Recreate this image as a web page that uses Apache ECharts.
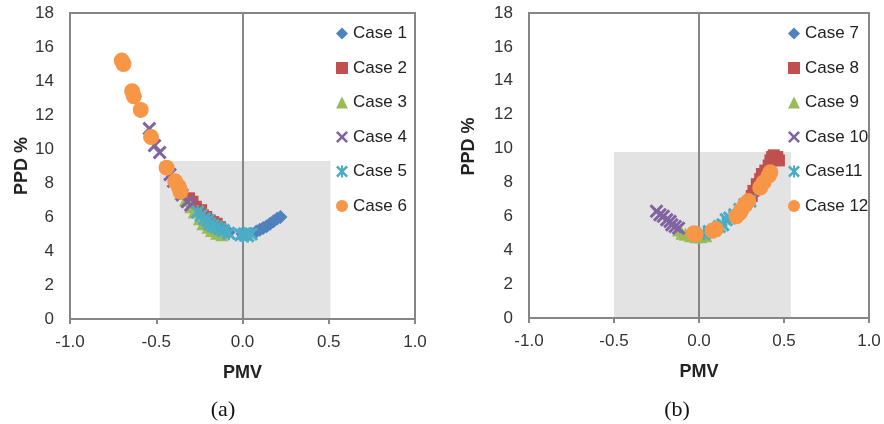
<!DOCTYPE html>
<html>
<head>
<meta charset="utf-8">
<script src="https://cdn.jsdelivr.net/npm/echarts@6/dist/echarts.min.js"></script>
<style>
html,body{margin:0;padding:0;background:#fff;}
#main{width:884px;height:424px;}
</style>
</head>
<body>
<div id="main"></div>
<script>
// tick values
var xTicks = [-1.0, -0.5, 0.0, 0.5, 1.0];
var yTicks = [0, 2, 4, 6, 8, 10, 12, 14, 16, 18];

// chart (a) : [PMV, PPD %]
var case1 = [[-0.10,5.2],[-0.08,5.1],[0.00,5.0],[0.08,5.15],[0.10,5.25],[0.12,5.35],[0.14,5.45],[0.16,5.6],[0.18,5.75],[0.20,5.9],[0.22,6.0]];
var case2 = [[-0.31,7.1],[-0.29,6.9],[-0.27,6.6],[-0.26,6.3],[-0.24,6.4],[-0.23,6.1],[-0.21,6.0],[-0.19,5.8],[-0.17,5.7],[-0.15,5.6],[-0.13,5.4]];
var case3 = [[-0.36,7.4],[-0.33,7.0],[-0.30,6.6],[-0.28,6.3],[-0.25,5.9],[-0.23,5.6],[-0.20,5.4],[-0.18,5.2],[-0.15,5.05],[-0.12,4.95]];
var case4 = [[-0.54,11.2],[-0.51,10.2],[-0.48,9.8],[-0.42,8.5],[-0.40,8.1],[-0.35,7.3],[-0.32,6.9],[-0.30,6.7]];
var case5 = [[-0.26,6.3],[-0.24,6.1],[-0.22,5.9],[-0.20,5.8],[-0.19,5.6],[-0.17,5.5],[-0.15,5.4],[-0.13,5.3],[-0.11,5.2],[-0.08,5.05],[-0.01,4.95],[0.01,5.0],[0.03,4.9],[0.05,5.0]];
var case6 = [[-0.70,15.2],[-0.69,15.0],[-0.64,13.4],[-0.63,13.1],[-0.59,12.3],[-0.53,10.7],[-0.44,8.9],[-0.39,8.1],[-0.37,7.8],[-0.36,7.5]];

// chart (b)
var case7 = [[0.34,7.8],[0.40,8.8],[0.44,9.2]];
var case8 = [[0.31,7.2],[0.32,7.5],[0.34,7.9],[0.36,8.2],[0.37,8.5],[0.39,8.7],[0.41,9.0],[0.42,9.3],[0.43,9.5],[0.44,9.6],[0.46,9.5],[0.47,9.3]];
var case9 = [[-0.12,5.2],[-0.10,5.0],[-0.08,4.95],[-0.05,4.85],[-0.02,4.8],[0.01,4.8],[0.04,4.85]];
var case10 = [[-0.25,6.3],[-0.23,6.1],[-0.21,6.0],[-0.19,5.8],[-0.17,5.7],[-0.16,5.5],[-0.14,5.4],[-0.12,5.3]];
var case11 = [[0.03,5.0],[0.06,5.1],[0.09,5.2],[0.12,5.4],[0.14,5.5],[0.16,5.8],[0.18,5.9],[0.21,6.1],[0.24,6.4],[0.27,6.7],[0.30,6.9]];
var case12 = [[-0.03,5.0],[-0.02,4.95],[0.08,5.15],[0.10,5.25],[0.22,6.0],[0.24,6.2],[0.25,6.4],[0.27,6.7],[0.29,6.9],[0.36,7.7],[0.38,8.0],[0.41,8.4],[0.42,8.6]];

// comfort zone boxes [x0, x1, yTop]
var zoneA = [-0.48, 0.51, 9.3];
var zoneB = [-0.50, 0.54, 9.8];

var seriesNamesA = ['Case 1','Case 2','Case 3','Case 4','Case 5','Case 6'];
var seriesNamesB = ['Case 7','Case 8','Case 9','Case 10','Case11','Case 12'];

var colors = ['#4F81BD','#C0504D','#9BBB59','#8064A2','#4BACC6','#F79646'];
var xMark = 'path://M0,1.8 L1.8,0 L6,4.2 L10.2,0 L12,1.8 L7.8,6 L12,10.2 L10.2,12 L6,7.8 L1.8,12 L0,10.2 L4.2,6 Z';
var starMark = 'path://M0,1.8 L1.8,0 L6,4.2 L10.2,0 L12,1.8 L7.8,6 L12,10.2 L10.2,12 L6,7.8 L1.8,12 L0,10.2 L4.2,6 Z M5,0 L7,0 L7,12 L5,12 Z';
var symbols = ['diamond','rect','triangle',xMark,starMark,'circle'];
var sizes = [14,12,13,14,14,16];

var FONT = 'Liberation Sans, Arial, sans-serif';

function makeSeries(names, datas, gi){
	var list = [];
	// shaded box + zero line
	var zone = gi == 0 ? zoneA : zoneB;
	list.push({
		type:'scatter',
		xAxisIndex:gi,
		yAxisIndex:gi,
		data:[],
		silent:true,
		markArea:{
			silent:true,
			z:0,
			itemStyle:{color:'#E3E3E3'},
			data:[[{coord:[zone[0],0]},{coord:[zone[1],zone[2]]}]]
		},
		markLine:{
			silent:true,
			z:1,
			symbol:['none','none'],
			label:{show:false},
			lineStyle:{color:'#868686',width:2,type:'solid'},
			data:[{xAxis:0}]
		}
	});
	for(var i=0;i<names.length;i++){
		list.push({
			name:names[i],
			type:'scatter',
			xAxisIndex:gi,
			yAxisIndex:gi,
			symbol:symbols[i],
			symbolSize:sizes[i],
			itemStyle:{color:colors[i],opacity:1},
			data:datas[i]
		});
	}
	return list;
}

function makeLegend(names, left){
	return {
		orient:'vertical',
		left:left,
		top:20,
		itemWidth:12,
		itemHeight:12,
		itemGap:17.5,
		selectedMode:false,
		textStyle:{fontFamily:FONT,fontSize:17,lineHeight:17,color:'#222'},
		data:names
	};
}

function makeX(gi){
	return {
		type:'value',
		gridIndex:gi,
		min:xTicks[0],
		max:xTicks[xTicks.length-1],
		interval:0.5,
		name:'PMV',
		nameLocation:'middle',
		nameGap:45,
		nameTextStyle:{fontFamily:FONT,fontSize:18,fontWeight:'bold',color:'#222'},
		axisLine:{show:true,lineStyle:{color:'#868686',width:2}},
		axisTick:{show:true,length:5,lineStyle:{color:'#868686',width:2}},
		axisLabel:{margin:15,fontFamily:FONT,fontSize:17,color:'#333',formatter:function(v){return v.toFixed(1);}},
		splitLine:{show:false}
	};
}

function makeY(gi, gap, pad){
	return {
		type:'value',
		gridIndex:gi,
		min:yTicks[0],
		max:yTicks[yTicks.length-1],
		interval:2,
		name:'PPD %',
		nameLocation:'middle',
		nameGap:gap,
		nameTextStyle:{fontFamily:FONT,fontSize:18,fontWeight:'bold',color:'#222',padding:[0,0,0,pad]},
		axisLine:{show:true,lineStyle:{color:'#868686',width:2}},
		axisTick:{show:false},
		axisLabel:{margin:16,fontFamily:FONT,fontSize:17,color:'#333'},
		splitLine:{show:false}
	};
}

var myChart = echarts.init(document.getElementById('main'));
var option = {
	animation:false,
	backgroundColor:'#fff',
	title:[
		{text:'(a)',left:218,top:394,textAlign:'center',textStyle:{fontFamily:'Liberation Serif, Times New Roman, serif',fontSize:22,fontWeight:'normal',color:'#111'}},
		{text:'(b)',left:672,top:394,textAlign:'center',textStyle:{fontFamily:'Liberation Serif, Times New Roman, serif',fontSize:22,fontWeight:'normal',color:'#111'}}
	],
	legend:[makeLegend(seriesNamesA,331),makeLegend(seriesNamesB,783)],
	grid:[
		{left:70,top:13,width:345,height:306,show:true,borderColor:'#868686',borderWidth:2,backgroundColor:'transparent'},
		{left:529,top:13,width:340,height:305,show:true,borderColor:'#868686',borderWidth:2,backgroundColor:'transparent'}
	],
	xAxis:[makeX(0),makeX(1)],
	yAxis:[makeY(0,31,0),makeY(1,51,38)],
	series:makeSeries(seriesNamesA,[case1,case2,case3,case4,case5,case6],0)
		.concat(makeSeries(seriesNamesB,[case7,case8,case9,case10,case11,case12],1))
};
myChart.setOption(option);
</script>
</body>
</html>
